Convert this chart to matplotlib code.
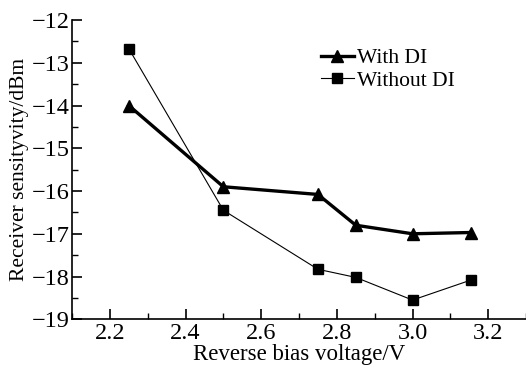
import matplotlib
matplotlib.use("Agg")
import matplotlib.pyplot as plt
from matplotlib.ticker import MultipleLocator

voltage = [2.25, 2.5, 2.75, 2.85, 3.0, 3.155]
with_di = [-14.0, -15.9, -16.08, -16.8, -17.0, -16.97]
without_di = [-12.67, -16.45, -17.83, -18.02, -18.55, -18.08]

plt.rcParams['font.family'] = ['Liberation Serif', 'DejaVu Serif']

fig = plt.figure(figsize=(5.26, 3.70), dpi=100)
ax = fig.add_axes([0.137, 0.137, 0.863, 0.809])

ax.plot(voltage, with_di, color='black', lw=2.4, marker='^', ms=8, label='With DI')
ax.plot(voltage, without_di, color='black', lw=0.8, marker='s', ms=6.5, label='Without DI')

ax.set_xlim(2.1, 3.3)
ax.set_ylim(-19, -12)
ax.xaxis.set_minor_locator(MultipleLocator(0.1))
ax.yaxis.set_minor_locator(MultipleLocator(0.5))
ax.set_xticks([2.2, 2.4, 2.6, 2.8, 3.0, 3.2])
ax.set_xticklabels(['2.2', '2.4', '2.6', '2.8', '3.0', '3.2'])
ax.set_yticks(range(-19, -11))
ax.set_yticklabels(['\u2212%d' % abs(v) for v in range(-19, -11)])

for s in ['top', 'right']:
    ax.spines[s].set_visible(False)
for s in ['left', 'bottom']:
    ax.spines[s].set_linewidth(1.2)

ax.tick_params(which='major', direction='in', length=7, width=1.2, labelsize=17.5)
ax.tick_params(which='minor', direction='in', length=4, width=1.0)
ax.tick_params(axis='x', pad=3)
ax.tick_params(axis='y', pad=2)

ax.set_xlabel('Reverse bias voltage/V', fontsize=16.5, labelpad=0)
ax.set_ylabel('Receiver sensityvity/dBm', fontsize=15.5, labelpad=2)

leg = ax.legend(loc='upper left', bbox_to_anchor=(0.53, 0.935), frameon=False,
                fontsize=15.5, handlelength=1.5, handletextpad=0.15, labelspacing=0.12,
                borderaxespad=0)

fig.savefig('out.png', dpi=100)
